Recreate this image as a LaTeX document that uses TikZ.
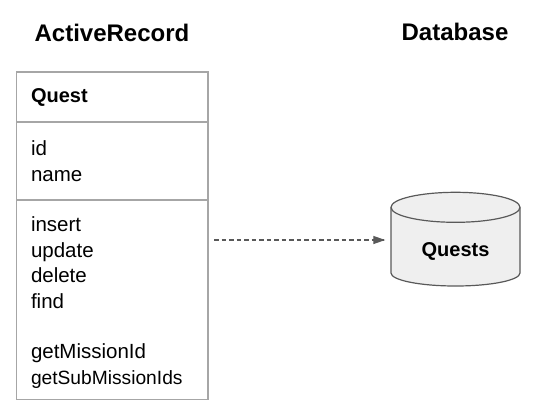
\documentclass[tikz,border=0pt]{standalone}
\usepackage{fontspec}
\setmainfont{Liberation Sans}
\usetikzlibrary{positioning, arrows.meta, decorations.markings, calc}

\definecolor{boxgray}{HTML}{A6A6A6}
\definecolor{dbgray}{HTML}{595959}
\definecolor{dbfill}{HTML}{EFEFEF}

\begin{document}
\begin{tikzpicture}[%
		x=1pt, y=-1pt,
		node distance=0pt,
		title/.style={
			font=\fontsize{24}{28}\selectfont\bfseries,
			anchor=base
		},
		section/.style={
			rectangle,
			draw=boxgray,
			line width=1.2pt,
			text width=162.7pt,
			inner xsep=14.3pt,
			inner ysep=0pt,
			outer sep=0pt,
			align=left,
			font=\fontsize{20.5}{25.6}\selectfont
		},
		dbbox/.style={
			rectangle,
			minimum width=129pt,
			minimum height=93.7pt,
			inner sep=0pt,
			outer sep=0pt
		},
		dbshape/.style={
			line width=1.2pt,
			draw=dbgray,
			fill=dbfill
		},
		dblabel/.style={
			font=\fontsize{20}{24}\selectfont\bfseries,
			anchor=base
		},
		dbarrow/.style={
			dbgray,
			line width=1.2pt,
			dash pattern=on 4.5pt off 3pt,
			decoration={markings,mark=at position 1 with {\arrow[>={Triangle[length=12pt,width=8pt]}]{>}}},
			postaction={decorate}
		}]

		\useasboundingbox (0,0) rectangle (543,418);

		% TITLES

		\node (title-ar) [title] at (112,41.7) {ActiveRecord};
		\node (title-db) [title] at (455,40) {Database};

		% QUEST CLASS

		\node (quest-head) [section, anchor=north west, minimum height=50pt, font=\fontsize{20}{25}\selectfont\bfseries] at (16.7,72) {Quest};
		\node (quest-attr) [section, below=of quest-head, minimum height=78pt] {id\\name};
		\node (quest-meth) [section, below=of quest-attr, minimum height=199.5pt] {\rule{0pt}{20pt}insert\\update\\delete\\find\\[24.5pt]getMissionId\\{\fontsize{19.2}{25.6}\selectfont getSubMissionIds}};

		% DATABASE

		\node (quests-db) [dbbox] at (455.5,239.15) {};
		\draw[dbshape] ([yshift=-15pt]quests-db.north west) -- ([yshift=13pt]quests-db.south west)
			arc[start angle=180, end angle=360, x radius=64.5pt, y radius=13pt]
			-- ([yshift=-15pt]quests-db.north east)
			arc[start angle=0, end angle=180, x radius=64.5pt, y radius=15pt] -- cycle;
		\draw[dbshape, fill=none] ([yshift=-15pt]quests-db.north west)
			arc[start angle=180, end angle=360, x radius=64.5pt, y radius=15pt];
		\node (quests-name) [dblabel] at ($(quests-db.center)+(0,17.55)$) {Quests};

		% ARROW

		\draw[dbarrow] ($(quest-meth.east |- quests-db.west)+(6,0.85)$) -- ($(quests-db.west)+(-5.7,0.85)$);
\end{tikzpicture}
\end{document}
